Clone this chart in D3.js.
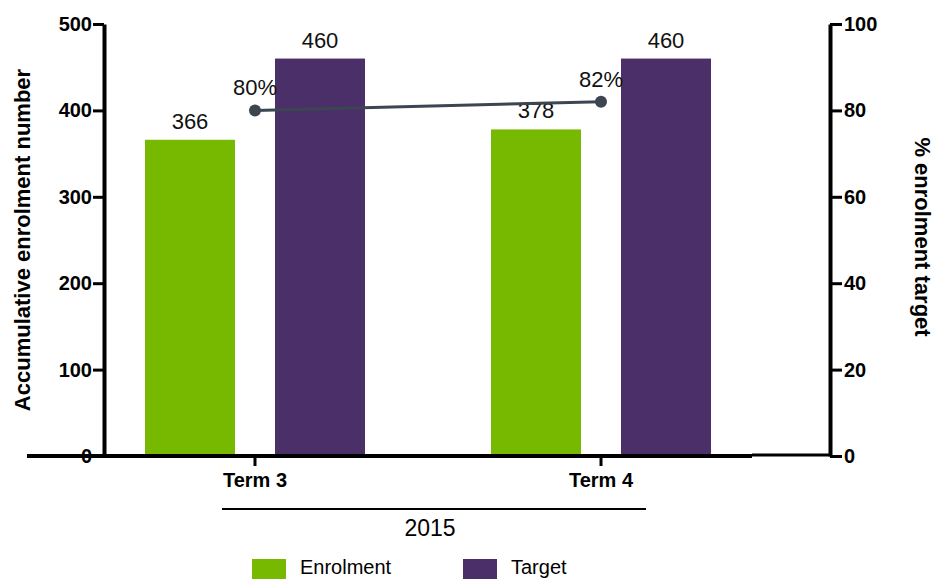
<!DOCTYPE html>
<html><head><meta charset="utf-8">
<script src="https://cdn.jsdelivr.net/npm/d3@7/dist/d3.min.js"></script>
<style>body{margin:0;background:#fff}svg{display:block;font-family:"Liberation Sans",Arial,sans-serif}</style>
</head><body><svg id="c" width="939" height="579"></svg>
<script>
const categories = ["Term 3", "Term 4"];
const seriesNames = ["Enrolment", "Target"];
const enrolment = [366, 378];
const target = [460, 460];
const percent = [80, 82];
const percentLabels = ["80%", "82%"];
const leftTicks = [0, 100, 200, 300, 400, 500];
const rightTicks = [0, 20, 40, 60, 80, 100];
const groupLabel = "2015";
const colors = {Enrolment: "#77b800", Target: "#4b2f69", line: "#3c4650"};

const svg = d3.select("#c");
const y = d3.scaleLinear().domain([0, 500]).range([456, 24]);
const y2 = d3.scaleLinear().domain([0, 100]).range([456, 24]);
const x = d3.scaleBand().domain(categories).range([82, 774]).padding(0);
const xi = d3.scaleBand().domain(seriesNames).range([-110, 110]).paddingInner(40/130).paddingOuter(0);
const cx = c => x(c) + x.bandwidth()/2;

// bars
const rows = categories.map((c, i) => ({c, vals: [{s: "Enrolment", v: enrolment[i]}, {s: "Target", v: target[i]}]}));
const g = svg.append("g");
rows.forEach(r => {
  r.vals.forEach(d => {
    g.append("rect")
      .attr("x", cx(r.c) + xi(d.s)).attr("width", xi.bandwidth())
      .attr("y", y(d.v)).attr("height", y(0) - y(d.v))
      .attr("fill", colors[d.s]);
    g.append("text")
      .attr("x", cx(r.c) + xi(d.s) + xi.bandwidth()/2).attr("y", y(d.v) - 11)
      .attr("text-anchor", "middle").attr("font-size", 22).attr("fill", "#111")
      .text(d.v);
  });
});

// axes
const axisStyle = sel => {
  sel.select(".domain").style("stroke", "#000").style("stroke-width", "4px");
  sel.selectAll(".tick line").style("stroke", "#000").style("stroke-width", "3px");
  sel.selectAll(".tick text").attr("font-family", "Liberation Sans, Arial, sans-serif")
    .attr("font-weight", "bold").attr("font-size", 20).attr("fill", "#000");
};
svg.append("g").attr("transform", "translate(104,0)")
  .call(d3.axisLeft(y).tickValues(leftTicks).tickSize(11).tickPadding(1).tickSizeOuter(0))
  .call(axisStyle);
svg.append("g").attr("transform", "translate(830,0)")
  .call(d3.axisRight(y2).tickValues(rightTicks).tickSize(12).tickPadding(2).tickSizeOuter(0))
  .call(axisStyle);

// x axis
svg.append("line").attr("x1", 27).attr("x2", 752).attr("y1", 456).attr("y2", 456)
  .attr("stroke", "#000").attr("stroke-width", 4);
svg.append("line").attr("x1", 752).attr("x2", 830).attr("y1", 455).attr("y2", 455)
  .attr("stroke", "#000").attr("stroke-width", 3);
const xa = svg.append("g");
categories.forEach(c => {
  xa.append("line").attr("x1", cx(c)).attr("x2", cx(c)).attr("y1", 456).attr("y2", 466)
    .attr("stroke", "#000").attr("stroke-width", 3);
  xa.append("text").attr("x", cx(c)).attr("y", 487).attr("text-anchor", "middle")
    .attr("font-weight", "bold").attr("font-size", 20).text(c);
});
svg.append("line").attr("x1", 222).attr("x2", 646).attr("y1", 509).attr("y2", 509)
  .attr("stroke", "#000").attr("stroke-width", 2);
svg.append("text").attr("x", 430).attr("y", 536).attr("text-anchor", "middle")
  .attr("font-size", 23).text(groupLabel);

// line series
const pts = categories.map((c, i) => [cx(c), y2(percent[i])]);
svg.append("path").attr("d", d3.line()(pts)).attr("fill", "none")
  .attr("stroke", colors.line).attr("stroke-width", 3);
pts.forEach((p, i) => {
  svg.append("circle").attr("cx", p[0]).attr("cy", p[1]).attr("r", 6).attr("fill", colors.line);
  svg.append("text").attr("x", p[0]).attr("y", p[1] - 15).attr("text-anchor", "middle")
    .attr("font-size", 22).attr("fill", "#111").text(percentLabels[i]);
});

// titles
svg.append("text").attr("transform", "translate(30,240) rotate(-90)").attr("text-anchor", "middle")
  .attr("font-weight", "bold").attr("font-size", 22).text("Accumulative enrolment number");
svg.append("text").attr("transform", "translate(915,237) rotate(90)").attr("text-anchor", "middle")
  .attr("font-weight", "bold").attr("font-size", 22).text("% enrolment target");

// legend
const leg = svg.append("g");
[["Enrolment", 252], ["Target", 463]].forEach(([s, lx]) => {
  leg.append("rect").attr("x", lx).attr("y", 559).attr("width", 34).attr("height", 22).attr("fill", colors[s]);
  leg.append("text").attr("x", lx + 48).attr("y", 574).attr("font-size", 20).text(s);
});
</script></body></html>
